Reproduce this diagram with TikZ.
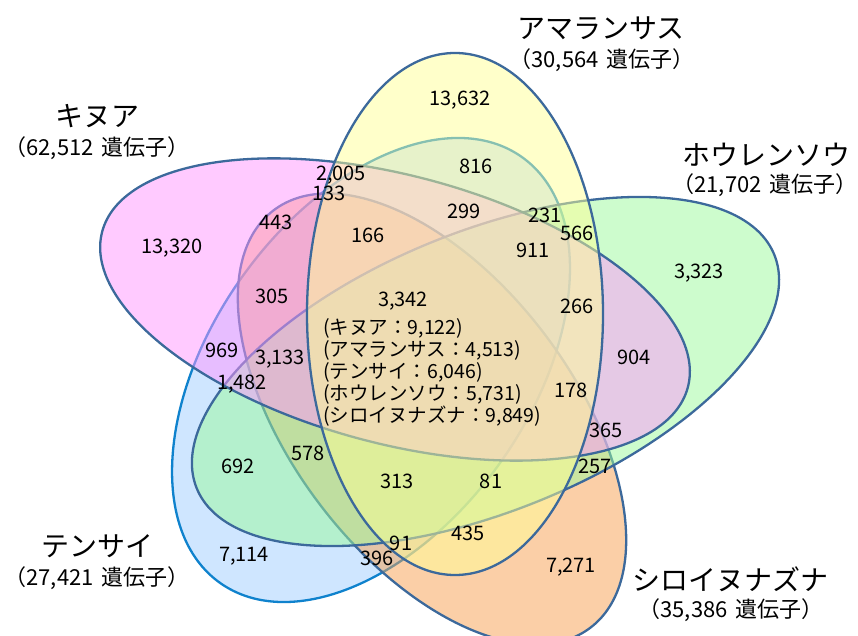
\documentclass[tikz,border=0pt]{standalone}
\usepackage{fontspec}
\setmainfont{Noto Sans CJK JP}
\definecolor{tfill}{RGB}{160,205,255}
\definecolor{ofill}{RGB}{247,160,80}
\definecolor{sfill}{RGB}{155,250,155}
\definecolor{qfill}{RGB}{255,150,255}
\definecolor{afill}{RGB}{255,255,150}
\definecolor{darkline}{RGB}{60,105,155}
\definecolor{tline}{RGB}{15,130,205}
\newcommand{\gsp}{\hspace{0.35em}}
\begin{document}
\begin{tikzpicture}[x=1pt,y=1pt,
  venn/.style={line width=2.3pt, fill opacity=0.5, draw=darkline},
  num/.style={font=\fontsize{20}{24}\selectfont, inner sep=0pt, anchor=base},
  ttl/.style={font=\fontsize{28}{32}\selectfont, inner sep=0pt},
  sub/.style={font=\fontsize{22}{26}\selectfont, inner sep=0pt},
  core/.style={font=\fontsize{19.5}{22}\selectfont, inner sep=0pt, align=left, anchor=west}]
\useasboundingbox (0,0) rectangle (858,635);
\begin{scope}
\clip (0,0) rectangle (858,635);
\draw[venn, draw=tline, fill=tfill, rotate around={54.7:(371,265)}] (371,265) ellipse [x radius=261, y radius=159];
\draw[venn, fill=ofill, rotate around={-52.8:(432,216)}] (432,216) ellipse [x radius=262, y radius=141];
\draw[venn, fill=sfill, rotate around={22:(485.5,263.5)}] (485.5,263.5) ellipse [x radius=311.5, y radius=140];
\draw[venn, fill=qfill, rotate around={-14.9:(395,325.5)}] (395,325.5) ellipse [x radius=303, y radius=134];
\draw[venn, fill=afill] (455,321) ellipse [x radius=148, y radius=261];
\end{scope}
% set labels
\node[ttl] (qt) at (97,519) {キヌア};
\node[sub] (qs) at (97,487) {（62,512\gsp 遺伝子）};
\node[ttl] (at) at (601,607) {アマランサス};
\node[sub] (as) at (602,575) {（30,564\gsp 遺伝子）};
\node[ttl] (st) at (766,480) {ホウレンソウ};
\node[sub] (ss) at (765,450) {（21,702\gsp 遺伝子）};
\node[ttl] (tt) at (97,89) {テンサイ};
\node[sub] (ts) at (97,57) {（27,421\gsp 遺伝子）};
\node[ttl] (ot) at (730,56) {シロイヌナズナ};
\node[sub] (os) at (731,25) {（35,386\gsp 遺伝子）};
% region counts (base y = 627.5 - y_img)
\node[num] (r1) at (460,529.5) {13,632};
\node[num] (r2) at (476,461.5) {816};
\node[num] (r3) at (341,454.5) {2,005};
\node[num] (r4) at (329,434.5) {133};
\node[num] (r5) at (464,416.5) {299};
\node[num] (r6) at (545,412.5) {231};
\node[num] (r7) at (368,392.5) {166};
\node[num] (r8) at (533,377.5) {911};
\node[num] (r9) at (577,394.5) {566};
\node[num] (r10) at (276,405.5) {443};
\node[num] (r11) at (172,381.5) {13,320};
\node[num] (r12) at (699,356.5) {3,323};
\node[num] (r13) at (272,331.5) {305};
\node[num] (r14) at (403,328.5) {3,342};
\node[num] (r15) at (577,321.5) {266};
\node[num] (r16) at (634,270.5) {904};
\node[num] (r17) at (222,277.5) {969};
\node[num] (r18) at (280,270.5) {3,133};
\node[num] (r19) at (242,245.5) {1,482};
\node[num] (r20) at (571,237.5) {178};
\node[num] (r21) at (606,197.5) {365};
\node[num] (r22) at (595,161.5) {257};
\node[num] (r23) at (238,161.5) {692};
\node[num] (r24) at (308,174.5) {578};
\node[num] (r25) at (397,146.5) {313};
\node[num] (r26) at (491,146.5) {81};
\node[num] (r27) at (468,94.5) {435};
\node[num] (r28) at (401,84.5) {91};
\node[num] (r29) at (377,69.5) {396};
\node[num] (r30) at (244,73.5) {7,114};
\node[num] (r31) at (571,62.5) {7,271};
\node[core] (center) at (323,263) {(キヌア：9,122)\\(アマランサス：4,513)\\(テンサイ：6,046)\\(ホウレンソウ：5,731)\\(シロイヌナズナ：9,849)};
\end{tikzpicture}
\end{document}
